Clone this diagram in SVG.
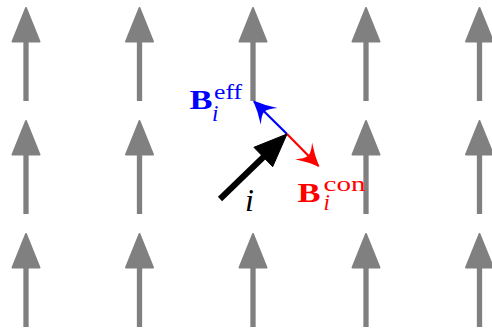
<svg xmlns="http://www.w3.org/2000/svg" width="492" height="333" viewBox="0 0 492 333">
<style>
.spin-shaft{stroke:#808080;stroke-width:5.3;fill:none}
.spin-head{fill:#808080;stroke:#808080;stroke-width:2;stroke-linejoin:round}
.bold{font-family:"Liberation Serif","DejaVu Serif",serif;font-weight:bold}
.rm{font-family:"Liberation Serif","DejaVu Serif",serif}
.it{font-family:"Liberation Serif","DejaVu Serif",serif;font-style:italic}
</style>
<defs>
<g id="spin">
<line class="spin-shaft" x1="0" y1="40" x2="0" y2="101"/>
<polygon class="spin-head" points="0,8 13.5,41.5 -13.5,41.5"/>
</g>
<marker id="head-blue" markerUnits="userSpaceOnUse" markerWidth="30" markerHeight="30" viewBox="-20 -12 24 24" refX="0" refY="0" orient="auto">
<path d="M1,0 Q-8,-3.5 -17,-9.5 Q-12,-4 -11.5,0 Q-12,4 -17,9.5 Q-8,3.5 1,0 Z" fill="#0000ff"/>
</marker>
<marker id="head-red" markerUnits="userSpaceOnUse" markerWidth="30" markerHeight="30" viewBox="-20 -12 24 24" refX="0" refY="0" orient="auto">
<path d="M1,0 Q-8,-3.5 -17,-9.5 Q-12,-4 -11.5,0 Q-12,4 -17,9.5 Q-8,3.5 1,0 Z" fill="#ff0000"/>
</marker>
</defs>
<g id="spins">
<use href="#spin" transform="translate(26,0)"/>
<use href="#spin" transform="translate(139.5,0)"/>
<use href="#spin" transform="translate(253,0)"/>
<use href="#spin" transform="translate(366,0)"/>
<use href="#spin" transform="translate(479.5,0)"/>
<use href="#spin" transform="translate(26,113)"/>
<use href="#spin" transform="translate(139.5,113)"/>
<use href="#spin" transform="translate(366,113)"/>
<use href="#spin" transform="translate(479.5,113)"/>
<use href="#spin" transform="translate(26,226)"/>
<use href="#spin" transform="translate(139.5,226)"/>
<use href="#spin" transform="translate(253,226)"/>
<use href="#spin" transform="translate(366,226)"/>
<use href="#spin" transform="translate(479.5,226)"/>
</g>
<g id="connectors">
<line x1="287" y1="134" x2="254" y2="101.5" stroke="#0000ff" stroke-width="2.2" marker-end="url(#head-blue)"/>
<line x1="287" y1="134" x2="318.5" y2="166" stroke="#ff0000" stroke-width="2.2" marker-end="url(#head-red)"/>
</g>
<g id="spin-i">
<line x1="220" y1="199" x2="265" y2="155.5" stroke="#000" stroke-width="6"/>
<polygon points="287,134 272.7,166.7 253.9,147.3" fill="#000" stroke="#000" stroke-width="1" stroke-linejoin="miter"/>
</g>
<g id="label-eff" fill="#0000ff">
<text class="bold" x="189.5" y="109" font-size="28" textLength="23" lengthAdjust="spacingAndGlyphs">B</text>
<text class="rm" x="214" y="99" font-size="22" textLength="28" lengthAdjust="spacingAndGlyphs">eff</text>
<text class="it" x="212" y="121" font-size="23">i</text>
</g>
<g id="label-con" fill="#ff0000">
<text class="bold" x="297.5" y="201.5" font-size="28" textLength="23" lengthAdjust="spacingAndGlyphs">B</text>
<text class="rm" x="323.5" y="191" font-size="22" textLength="42" lengthAdjust="spacingAndGlyphs">con</text>
<text class="it" x="323.5" y="209.5" font-size="23">i</text>
</g>
<g id="label-i">
<text class="it" x="245" y="211" font-size="32" fill="#000">i</text>
</g>
</svg>
